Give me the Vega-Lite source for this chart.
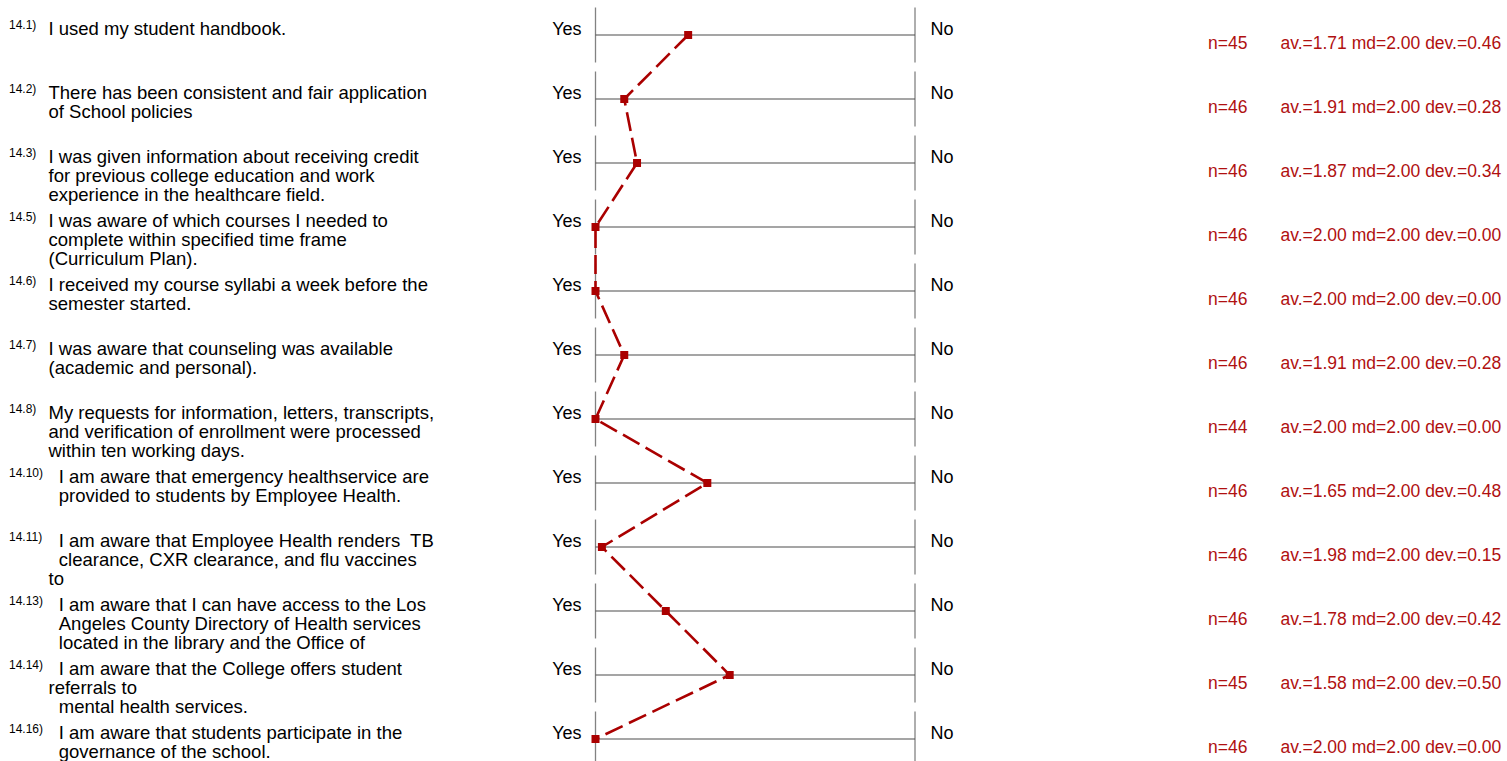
{
  "$schema": "https://vega.github.io/schema/vega-lite/v6.json",
  "width": 1507,
  "height": 761,
  "padding": 0,
  "autosize": {"type": "none"},
  "background": "white",
  "config": {"view": {"stroke": null}, "font": "Liberation Sans"},
  "data": {
    "values": [
      {"id": "14.1)", "q": "I used my student handbook.", "n": 45, "av": 1.71, "md": 2.0, "dev": 0.46},
      {"id": "14.2)", "q": "There has been consistent and fair application\nof School policies", "n": 46, "av": 1.91, "md": 2.0, "dev": 0.28},
      {"id": "14.3)", "q": "I was given information about receiving credit\nfor previous college education and work\nexperience in the healthcare field.", "n": 46, "av": 1.87, "md": 2.0, "dev": 0.34},
      {"id": "14.5)", "q": "I was aware of which courses I needed to\ncomplete within specified time frame\n(Curriculum Plan).", "n": 46, "av": 2.0, "md": 2.0, "dev": 0.0},
      {"id": "14.6)", "q": "I received my course syllabi a week before the\nsemester started.", "n": 46, "av": 2.0, "md": 2.0, "dev": 0.0},
      {"id": "14.7)", "q": "I was aware that counseling was available\n(academic and personal).", "n": 46, "av": 1.91, "md": 2.0, "dev": 0.28},
      {"id": "14.8)", "q": "My requests for information, letters, transcripts,\nand verification of enrollment were processed\nwithin ten working days.", "n": 44, "av": 2.0, "md": 2.0, "dev": 0.0},
      {"id": "14.10)", "q": "\u200b\u00a0\u00a0I am aware that emergency healthservice are\n\u200b\u00a0\u00a0provided to students by Employee Health.", "n": 46, "av": 1.65, "md": 2.0, "dev": 0.48},
      {"id": "14.11)", "q": "\u200b\u00a0\u00a0I am aware that Employee Health renders\u00a0 TB\n\u200b\u00a0\u00a0clearance, CXR clearance, and flu vaccines\nto", "n": 46, "av": 1.98, "md": 2.0, "dev": 0.15},
      {"id": "14.13)", "q": "\u200b\u00a0\u00a0I am aware that I can have access to the Los\n\u200b\u00a0\u00a0Angeles County Directory of Health services\n\u200b\u00a0\u00a0located in the library and the Office of", "n": 46, "av": 1.78, "md": 2.0, "dev": 0.42},
      {"id": "14.14)", "q": "\u200b\u00a0\u00a0I am aware that the College offers student\nreferrals to\n\u200b\u00a0\u00a0mental health services.", "n": 45, "av": 1.58, "md": 2.0, "dev": 0.5},
      {"id": "14.16)", "q": "\u200b\u00a0\u00a0I am aware that students participate in the\n\u200b\u00a0\u00a0governance of the school.", "n": 46, "av": 2.0, "md": 2.0, "dev": 0.0}
    ]
  },
  "encoding": {
    "y": {
      "field": "id",
      "type": "nominal",
      "scale": {
        "type": "band",
        "domain": ["14.1)", "14.2)", "14.3)", "14.5)", "14.6)", "14.7)", "14.8)", "14.10)", "14.11)", "14.13)", "14.14)", "14.16)"],
        "range": [3, 771],
        "paddingInner": 0,
        "paddingOuter": 0
      },
      "axis": null
    }
  },
  "layer": [
    {
      "layer": [
        {
          "mark": {"type": "rule", "color": "#4d4d4d", "strokeWidth": 1.1},
          "encoding": {
            "x": {"datum": 2, "type": "quantitative", "scale": {"domain": [2, 1], "range": [595.5, 915]}, "axis": null},
            "x2": {"datum": 1}
          }
        },
        {
          "mark": {"type": "tick", "color": "#4d4d4d", "thickness": 1.3, "size": 55},
          "encoding": {
            "x": {"datum": 2, "type": "quantitative", "scale": {"domain": [2, 1], "range": [595.5, 915]}, "axis": null}
          }
        },
        {
          "mark": {"type": "tick", "color": "#4d4d4d", "thickness": 1.3, "size": 55},
          "encoding": {
            "x": {"datum": 1, "type": "quantitative", "scale": {"domain": [2, 1], "range": [595.5, 915]}, "axis": null}
          }
        },
        {
          "mark": {"type": "text", "text": "Yes", "align": "right", "baseline": "alphabetic", "dx": -14, "fontSize": 18, "color": "#000000"},
          "encoding": {
            "x": {"datum": 2, "type": "quantitative", "scale": {"domain": [2, 1], "range": [595.5, 915]}, "axis": null}
          }
        },
        {
          "mark": {"type": "text", "text": "No", "align": "left", "baseline": "alphabetic", "dx": 15.5, "fontSize": 18, "color": "#000000"},
          "encoding": {
            "x": {"datum": 1, "type": "quantitative", "scale": {"domain": [2, 1], "range": [595.5, 915]}, "axis": null}
          }
        },
        {
          "mark": {"type": "line", "color": "#aa0000", "strokeWidth": 2.6, "strokeDash": [19, 7]},
          "encoding": {
            "x": {"field": "av", "type": "quantitative", "scale": {"domain": [2, 1], "range": [595.5, 915]}, "axis": null},
            "order": {"value": null}
          }
        },
        {
          "mark": {"type": "point", "shape": "square", "filled": true, "size": 64, "color": "#aa0000", "opacity": 1},
          "encoding": {
            "x": {"field": "av", "type": "quantitative", "scale": {"domain": [2, 1], "range": [595.5, 915]}, "axis": null}
          }
        }
      ]
    },
    {
      "layer": [
        {
          "mark": {"type": "text", "align": "left", "baseline": "alphabetic", "fontSize": 12, "dy": -6.5, "color": "#000000"},
          "encoding": {
            "x": {"datum": "num", "type": "nominal", "scale": {"type": "point", "domain": ["num", "q"], "range": [9, 48.5], "padding": 0}, "axis": null},
            "text": {"field": "id", "type": "nominal"}
          }
        },
        {
          "mark": {"type": "text", "align": "left", "baseline": "alphabetic", "fontSize": 18.5, "lineBreak": "\n", "lineHeight": 19, "color": "#000000"},
          "encoding": {
            "x": {"datum": "q", "type": "nominal", "scale": {"type": "point", "domain": ["num", "q"], "range": [9, 48.5], "padding": 0}, "axis": null},
            "text": {"field": "q", "type": "nominal"}
          }
        }
      ]
    },
    {
      "transform": [
        {"calculate": "'n=' + datum.n", "as": "nLabel"},
        {"calculate": "'av.=' + format(datum.av, '.2f') + ' md=' + format(datum.md, '.2f') + ' dev.=' + format(datum.dev, '.2f')", "as": "sLabel"}
      ],
      "layer": [
        {
          "mark": {"type": "text", "align": "left", "baseline": "alphabetic", "fontSize": 17.5, "dy": 13.5, "color": "#b01010"},
          "encoding": {
            "x": {"datum": "n", "type": "nominal", "scale": {"type": "point", "domain": ["n", "s"], "range": [1208, 1280.5], "padding": 0}, "axis": null},
            "text": {"field": "nLabel", "type": "nominal"}
          }
        },
        {
          "mark": {"type": "text", "align": "left", "baseline": "alphabetic", "fontSize": 17.5, "dy": 13.5, "color": "#b01010"},
          "encoding": {
            "x": {"datum": "s", "type": "nominal", "scale": {"type": "point", "domain": ["n", "s"], "range": [1208, 1280.5], "padding": 0}, "axis": null},
            "text": {"field": "sLabel", "type": "nominal"}
          }
        }
      ]
    }
  ],
  "resolve": {"scale": {"x": "independent"}}
}
